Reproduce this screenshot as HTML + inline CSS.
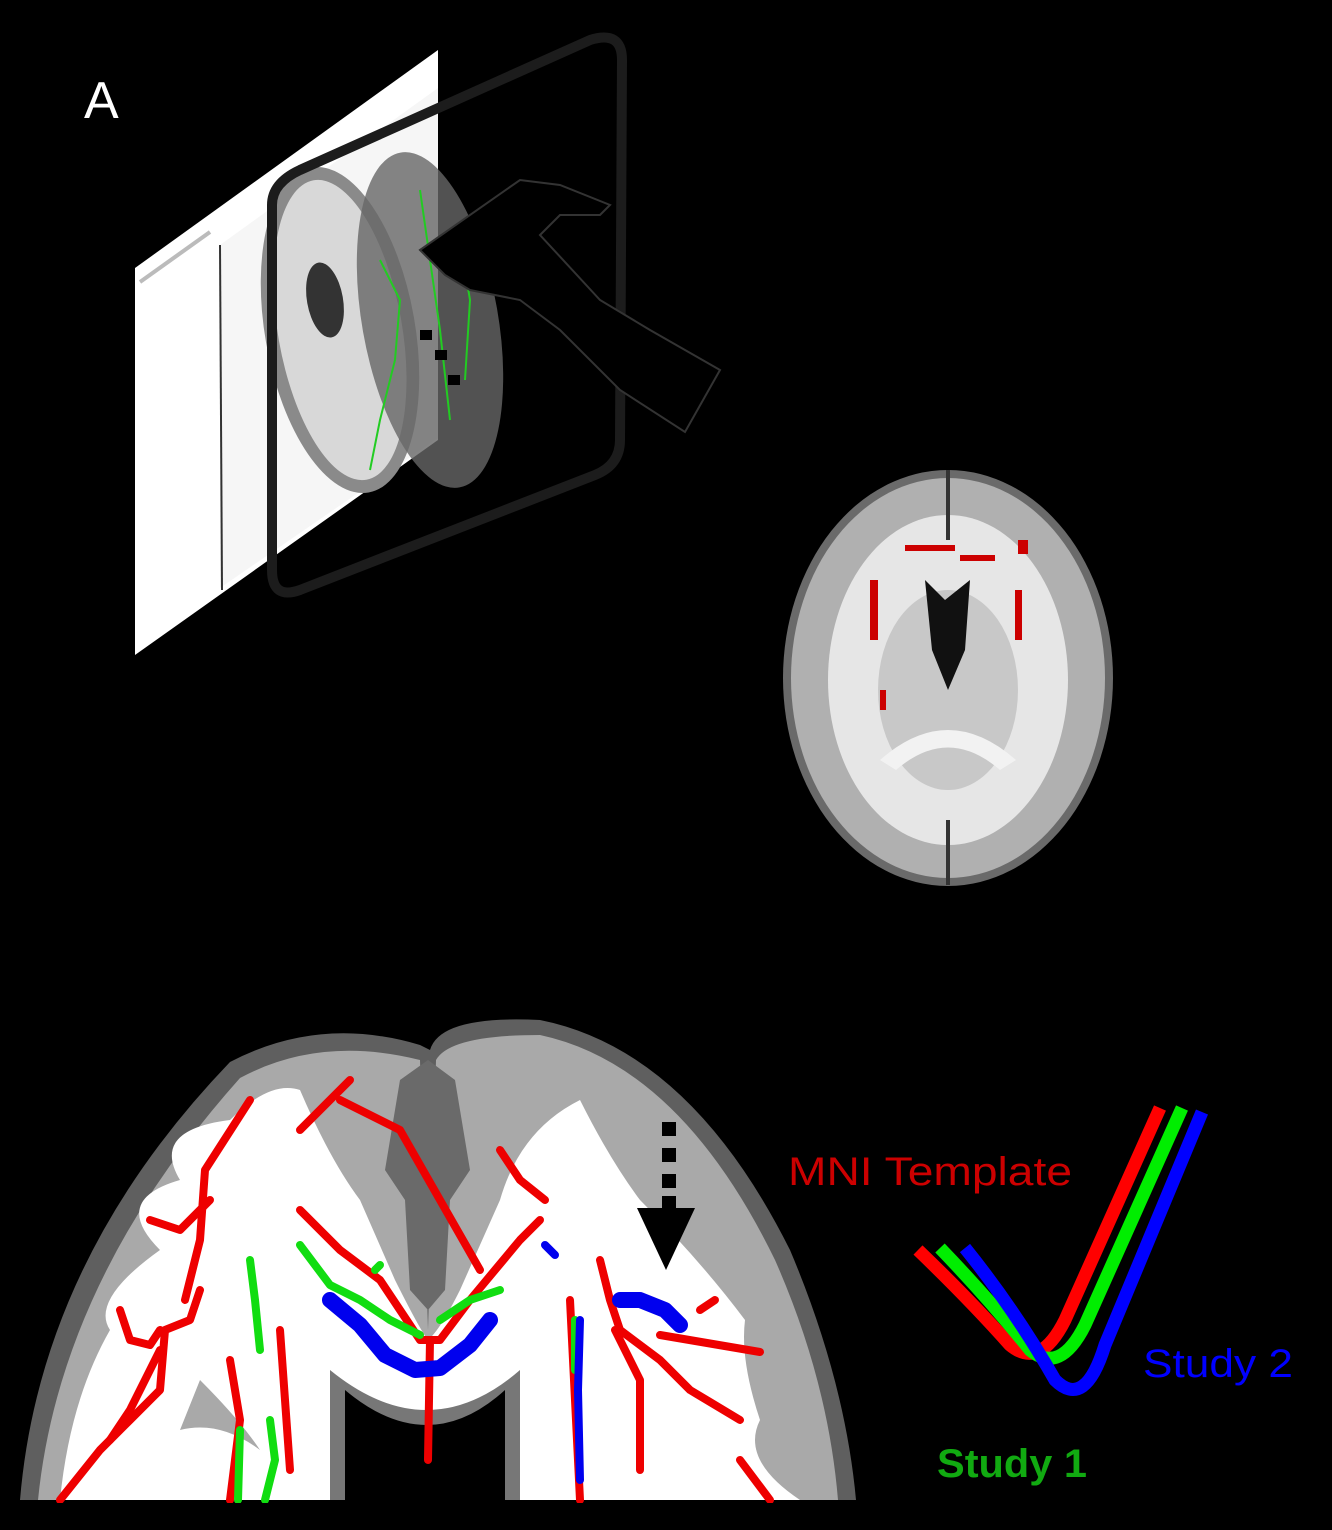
<!DOCTYPE html>
<html><head><style>
body{margin:0;background:#000;width:1332px;height:1530px;overflow:hidden}
svg{display:block}
</style></head><body>
<svg width="1332" height="1530" viewBox="0 0 1332 1530" xmlns="http://www.w3.org/2000/svg">
<rect width="1332" height="1530" fill="#000"/>
<text x="84" y="118" fill="#fff" font-family="Liberation Sans, sans-serif" font-size="52">A</text>
<!-- screenshot panel -->
<polygon points="135,268 438,50 438,440 135,655" fill="#fff"/>
<polygon points="220,245 438,88 438,438 220,588" fill="#f6f6f6"/>
<line x1="220" y1="245" x2="222" y2="590" stroke="#333" stroke-width="2"/>
<line x1="140" y1="282" x2="210" y2="232" stroke="#bbb" stroke-width="4"/>
<!-- brain in panel -->
<ellipse cx="340" cy="330" rx="75" ry="165" fill="#8a8a8a" transform="rotate(-10 340 330)"/>
<ellipse cx="340" cy="330" rx="62" ry="152" fill="#d8d8d8" transform="rotate(-10 340 330)"/>
<ellipse cx="325" cy="300" rx="18" ry="38" fill="#333" transform="rotate(-10 325 300)"/>
<ellipse cx="430" cy="320" rx="68" ry="170" fill="#666" opacity="0.8" transform="rotate(-10 430 320)"/>
<polyline points="380,260 400,300 395,360 380,420 370,470" stroke="#2c2" stroke-width="2" fill="none"/>
<polyline points="420,190 430,260 440,330 450,420" stroke="#2c2" stroke-width="2" fill="none"/>
<polyline points="460,240 470,300 465,380" stroke="#2c2" stroke-width="2" fill="none"/>
<!-- tablet frame -->
<path d="M300,170 L590,40 Q622,30 622,60 L620,440 Q620,465 595,475 L300,590 Q272,600 272,570 L272,205 Q272,183 300,170Z" fill="none" stroke="#1c1c1c" stroke-width="10"/>
<!-- hand -->
<path d="M420,250 L520,180 L560,185 L610,205 L600,215 L560,215 L540,235 L600,300 L650,330 L720,370 L685,432 L620,390 L560,330 L520,300 L470,290 L445,275Z" fill="#000" stroke="#333" stroke-width="2"/>
<g fill="#000"><rect x="420" y="330" width="12" height="10"/><rect x="435" y="350" width="12" height="10"/><rect x="448" y="375" width="12" height="10"/></g>
<!-- axial brain right -->
<ellipse cx="948" cy="678" rx="165" ry="208" fill="#6a6a6a"/>
<ellipse cx="948" cy="678" rx="157" ry="200" fill="#b0b0b0"/>
<ellipse cx="948" cy="680" rx="120" ry="165" fill="#e6e6e6"/>
<ellipse cx="948" cy="690" rx="70" ry="100" fill="#c8c8c8"/>
<path d="M925,580 L945,600 L970,580 L965,650 L948,690 L932,650Z" fill="#111"/>
<path d="M880,760 Q948,700 1016,760 L1000,770 Q948,725 896,770Z" fill="#f2f2f2"/>
<line x1="948" y1="470" x2="948" y2="540" stroke="#333" stroke-width="4"/>
<line x1="948" y1="820" x2="948" y2="885" stroke="#333" stroke-width="4"/>
<g fill="#c00"><rect x="870" y="580" width="8" height="60"/><rect x="1015" y="590" width="7" height="50"/><rect x="905" y="545" width="50" height="6"/><rect x="960" y="555" width="35" height="6"/><rect x="1018" y="540" width="10" height="14"/><rect x="880" y="690" width="6" height="20"/></g>
<!-- coronal brain -->
<path d="M20,1500 Q40,1260 230,1062 Q320,1015 420,1045 L430,1050 Q440,1015 540,1020 Q690,1050 790,1250 Q845,1380 856,1500Z" fill="#5f5f5f"/>
<path d="M38,1500 Q60,1280 240,1078 Q320,1035 420,1060 L428,1330 L436,1060 Q450,1035 540,1035 Q680,1065 775,1260 Q828,1380 838,1500Z" fill="#a9a9a9"/>
<path d="M60,1500 Q70,1400 110,1330 Q90,1300 160,1250 Q110,1200 180,1180 Q150,1130 230,1120 Q270,1080 300,1090 Q330,1160 360,1200 L395,1280 Q420,1330 428,1340 Q440,1330 460,1290 L500,1200 Q520,1130 580,1100 Q610,1160 640,1200 Q700,1260 745,1320 Q740,1360 760,1420 Q740,1460 800,1500Z" fill="#fff"/>
<path d="M400,1080 L428,1060 L455,1080 L470,1170 L450,1200 L445,1290 L428,1310 L410,1290 L405,1200 L385,1170Z" fill="#6a6a6a"/>
<path d="M200,1380 Q240,1420 260,1450 Q220,1420 180,1430Z" fill="#a9a9a9"/>
<path d="M330,1370 Q428,1450 520,1370 L520,1500 L330,1500Z" fill="#777"/>
<path d="M345,1390 Q428,1460 505,1390 L505,1500 L345,1500Z" fill="#000"/>
<g fill="none" stroke-linejoin="round" stroke-linecap="round">
<g stroke="#e00" stroke-width="8">
<polyline points="210,1200 180,1230 150,1220"/>
<polyline points="185,1300 200,1240 205,1170 250,1100"/>
<polyline points="60,1500 100,1450 130,1420 160,1390 165,1330 190,1320 200,1290"/>
<polyline points="120,1310 130,1340 150,1345 160,1330"/>
<polyline points="300,1130 330,1100 350,1080"/>
<polyline points="300,1210 340,1250 380,1280 420,1340 440,1340 470,1300 520,1240 540,1220"/>
<polyline points="430,1340 428,1460"/>
<polyline points="480,1270 400,1130 340,1100"/>
<polyline points="600,1260 610,1300 620,1330 660,1360 690,1390 740,1420"/>
<polyline points="660,1335 760,1352"/>
<polyline points="500,1150 520,1180 545,1200"/>
<polyline points="570,1300 580,1500"/>
<polyline points="615,1330 640,1380 640,1470"/>
<polyline points="160,1350 130,1410 110,1440"/>
<polyline points="230,1360 240,1420 230,1500"/>
<polyline points="740,1460 770,1500"/>
<polyline points="700,1310 715,1300"/>
<polyline points="280,1330 285,1400 290,1470"/>
</g>
<g stroke="#1d1" stroke-width="8">
<polyline points="300,1245 330,1285 360,1300 390,1320 420,1335"/>
<polyline points="440,1320 470,1300 500,1290"/>
<polyline points="250,1260 255,1300 260,1350"/>
<polyline points="270,1420 275,1460 265,1500"/>
<polyline points="240,1430 238,1500"/>
<polyline points="575,1320 575,1370"/>
<polyline points="380,1265 375,1270"/>
</g>
<g stroke="#00e" stroke-width="16">
<polyline points="330,1300 360,1325 385,1355 415,1370 440,1368 470,1345 490,1320"/>
<polyline points="620,1300 640,1300 665,1310 680,1325"/>
</g>
<g stroke="#00e" stroke-width="8"><polyline points="580,1320 578,1390 580,1480"/><polyline points="545,1245 555,1255"/></g>
</g>
<!-- dashed arrow -->
<g fill="#000"><rect x="662" y="1122" width="14" height="14"/><rect x="662" y="1148" width="14" height="14"/><rect x="662" y="1174" width="14" height="14"/><rect x="662" y="1196" width="14" height="12"/></g>
<polygon points="637,1208 695,1208 666,1270" fill="#000"/>
<rect x="0" y="1503" width="1332" height="27" fill="#000"/>
<!-- curves -->
<g fill="none" stroke-width="13" stroke-linecap="butt">
<path d="M918,1250 Q970,1300 1010,1345 Q1040,1370 1065,1320 L1160,1108" stroke="#f00"/>
<path d="M940,1248 Q990,1300 1030,1350 Q1060,1375 1085,1325 L1182,1108" stroke="#0e0"/>
<path d="M965,1248 Q1015,1310 1055,1380 Q1085,1410 1105,1345 L1202,1112" stroke="#00f"/>
</g>
<g font-family="Liberation Sans, sans-serif" font-size="40">
<text x="788" y="1185" fill="#c00" textLength="284" lengthAdjust="spacingAndGlyphs">MNI Template</text>
<text x="1143" y="1377" fill="#00f" textLength="150" lengthAdjust="spacingAndGlyphs">Study 2</text>
<text x="937" y="1477" fill="#1a1" font-weight="bold" textLength="150" lengthAdjust="spacingAndGlyphs">Study 1</text>
</g>
</svg>
</body></html>
